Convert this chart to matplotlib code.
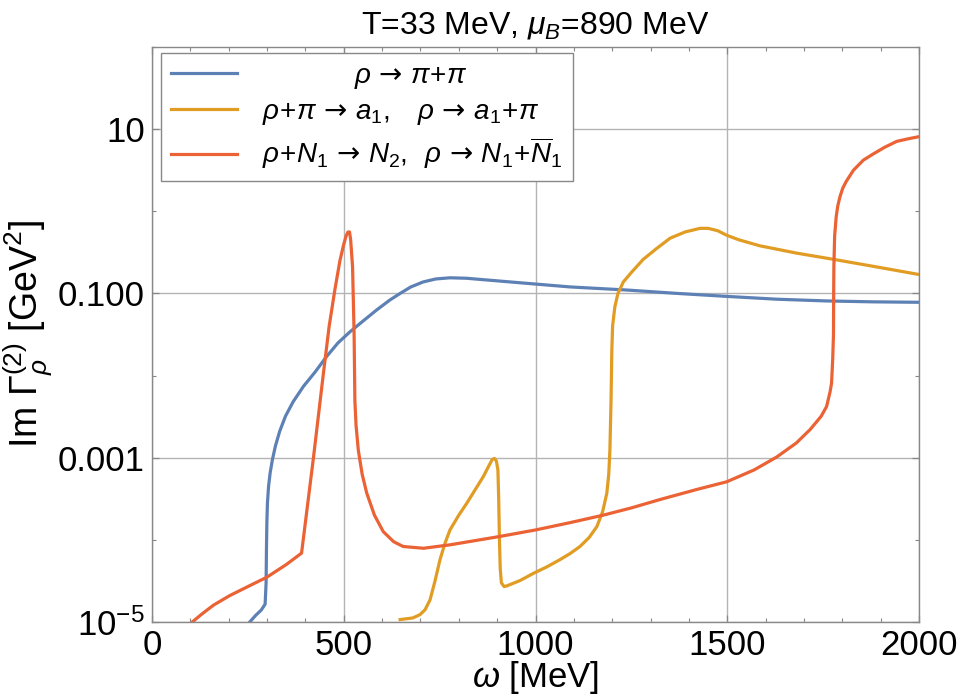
import matplotlib
matplotlib.use("Agg")
import matplotlib.pyplot as plt
from matplotlib.ticker import FixedLocator, MultipleLocator, NullFormatter

plt.rcParams["font.family"] = ["Liberation Sans", "DejaVu Sans"]
plt.rcParams["mathtext.fontset"] = "custom"
plt.rcParams["mathtext.rm"] = "Liberation Sans"
plt.rcParams["mathtext.it"] = "Liberation Sans:italic"
plt.rcParams["mathtext.bf"] = "Liberation Sans:bold"
plt.rcParams["mathtext.sf"] = "DejaVu Sans"

# rho -> pi + pi
omega_pipi = [255, 270, 285, 295, 297.5, 298.5, 299.5, 301, 304, 308, 314, 322,
              333, 348, 368, 395, 425, 455, 485, 516, 550, 586, 620, 647, 675,
              707, 740, 777, 820, 864, 950, 1090, 1238, 1370, 1499, 1630, 1759,
              1880, 2000]
gamma_pipi = [1.0e-5, 1.2e-5, 1.4e-5, 1.65e-5, 3.0e-5, 8.0e-5, 1.6e-4, 2.8e-4,
              4.5e-4, 6.5e-4, 9.5e-4, 1.4e-3, 2.1e-3, 3.2e-3, 4.8e-3, 7.4e-3,
              0.011, 0.017, 0.025, 0.034, 0.046, 0.063, 0.083, 0.10, 0.12,
              0.138, 0.15, 0.155, 0.153, 0.147, 0.136, 0.12, 0.11, 0.10, 0.092,
              0.085, 0.081, 0.079, 0.078]

# rho + pi -> a1, rho -> a1 + pi
omega_a1 = [647, 680, 699, 712, 725, 738, 751, 764, 777, 800, 821, 843, 864,
            878, 887, 893, 898, 902, 904, 906, 908, 911, 918, 925, 960, 994,
            1030, 1064, 1090, 1116, 1140, 1160, 1175, 1186, 1191, 1194, 1197,
            1199, 1201, 1207, 1215, 1229, 1250, 1281, 1315, 1351, 1390, 1429,
            1450, 1475, 1499, 1530, 1585, 1680, 1777, 1890, 2000]
gamma_a1 = [1.07e-5, 1.12e-5, 1.23e-5, 1.41e-5, 1.86e-5, 3.16e-5, 5.75e-5,
            9.1e-5, 1.32e-4, 2.0e-4, 2.8e-4, 4.1e-4, 5.9e-4, 7.9e-4, 9.5e-4,
            9.8e-4, 9.1e-4, 7.1e-4, 3.2e-4, 1.0e-4, 4.5e-5, 3.0e-5, 2.7e-5,
            2.75e-5, 3.2e-5, 3.9e-5, 4.7e-5, 5.75e-5, 6.8e-5, 8.3e-5, 1.07e-4,
            1.45e-4, 2.2e-4, 3.7e-4, 6.3e-4, 1.23e-3, 5.0e-3, 0.020, 0.040,
            0.069, 0.10, 0.138, 0.18, 0.26, 0.35, 0.47, 0.56, 0.62, 0.62,
            0.58, 0.51, 0.45, 0.38, 0.31, 0.26, 0.21, 0.17]

# rho + N1 -> N2, rho -> N1 + anti-N1
omega_nn = [105, 130, 160, 203, 250, 299, 350, 390, 421, 447, 462, 477, 490,
            499, 506, 511, 515, 518, 523, 527, 529, 532, 538, 548, 560, 580,
            603, 630, 655, 708, 777, 907, 1000, 1090, 1177, 1250, 1325, 1420,
            1499, 1570, 1629, 1680, 1716, 1745, 1759, 1768, 1772, 1775, 1777,
            1777.5, 1778, 1780, 1784, 1788, 1794, 1801, 1810, 1829, 1855, 1881,
            1910, 1942, 1970, 2000]
gamma_nn = [1.0e-5, 1.25e-5, 1.6e-5, 2.1e-5, 2.7e-5, 3.5e-5, 5.0e-5, 6.9e-5,
            1.0e-3, 0.0107, 0.040, 0.112, 0.25, 0.38, 0.50, 0.56, 0.56, 0.45,
            0.21, 0.032, 5.0e-3, 2.5e-3, 1.23e-3, 6.3e-4, 3.7e-4, 2.0e-4,
            1.26e-4, 9.5e-5, 8.3e-5, 7.9e-5, 8.7e-5, 1.1e-4, 1.32e-4, 1.62e-4,
            2.0e-4, 2.45e-4, 3.1e-4, 4.1e-4, 5.1e-4, 7.1e-4, 1.02e-3, 1.51e-3,
            2.2e-3, 3.2e-3, 4.2e-3, 6.3e-3, 8.1e-3, 0.016, 0.032, 0.10, 0.21,
            0.50, 0.85, 1.15, 1.51, 1.9, 2.3, 3.16, 4.2, 5.0, 6.0, 7.1, 7.6, 8.1]

arrow = r"\,\mathsf{\rightarrow}\,"
labels = [
    "            " + rf"$\rho{arrow}\pi\!+\!\pi$",
    rf"$\rho\!+\!\pi{arrow}a_1,\quad \rho{arrow}a_1\!+\!\pi$",
    rf"$\rho\!+\!N_1{arrow}N_2,\;\; \rho{arrow}N_1\!+\!\overline{{N}}_1$",
]
colors = ["#5E81B5", "#E19C24", "#EB6235"]

y_major = [1e-5, 1e-3, 1e-1, 10]
y_major_labels = [r"$10^{-5}$", "0.001", "0.100", "10"]
y_minor = [1e-4, 1e-2, 1, 100]

fig = plt.figure(figsize=(9.59, 6.96), dpi=100)
ax = fig.add_axes([152 / 959, 1 - 622 / 696, 767 / 959, 575 / 696])

series = [(omega_pipi, gamma_pipi), (omega_a1, gamma_a1), (omega_nn, gamma_nn)]
for (x, y), lab, c in zip(series, labels, colors):
    ax.plot(x, y, color=c, lw=2.3, label=lab, solid_joinstyle="round")

ax.set_yscale("log")
ax.set_xlim(0, 2000)
ax.set_ylim(1e-5, 100)

ax.yaxis.set_major_locator(FixedLocator(y_major))
ax.yaxis.set_minor_locator(FixedLocator(y_minor))
ax.set_yticklabels(y_major_labels)
ax.yaxis.set_minor_formatter(NullFormatter())
ax.xaxis.set_major_locator(MultipleLocator(500))
ax.xaxis.set_minor_locator(MultipleLocator(100))

ax.tick_params(which="both", direction="in", top=True, right=True,
               colors="#888888", labelcolor="black", labelsize=25)
ax.tick_params(which="major", length=5, width=0.9, pad=5)
ax.tick_params(which="minor", length=3, width=0.8)
for sp in ax.spines.values():
    sp.set_color("#888888")
    sp.set_linewidth(1.0)

ax.grid(True, which="major", color="#b4b4b4", lw=1.0)
ax.set_axisbelow(True)

ax.set_xlabel(r"$\omega$ [MeV]", fontsize=25, labelpad=-2)
ax.set_ylabel(r"$\mathrm{Im}\ \Gamma_\rho^{(2)}$ [GeV$^2$]", fontsize=27, labelpad=2)
ax.set_title(r"T=33 MeV, $\mu_B$=890 MeV", fontsize=23, pad=10)

leg = ax.legend(loc="upper left", bbox_to_anchor=(9 / 767, 1 - 6 / 575),
                borderaxespad=0, fontsize=20, fancybox=False, framealpha=1,
                edgecolor="#888888", handlelength=2.4, handletextpad=0.9,
                borderpad=0.35, labelspacing=0.3)
leg.get_frame().set_linewidth(1.0)

fig.savefig("out.png", dpi=100)
